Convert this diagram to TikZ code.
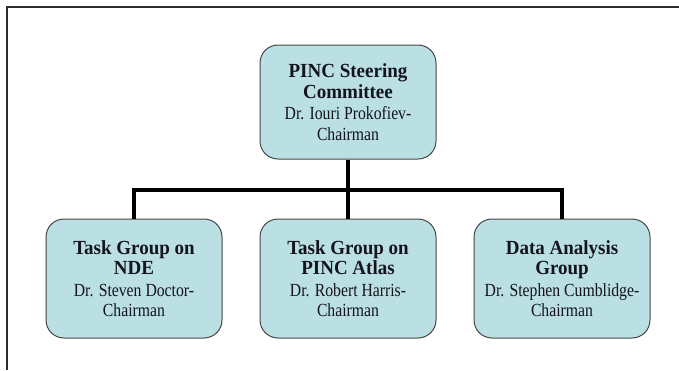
\documentclass[tikz,border=0pt]{standalone}
\usepackage{fontspec}
\setmainfont{Liberation Serif}[FakeStretch=0.85, BoldFeatures={FakeStretch=0.95}]
\definecolor{boxblue}{RGB}{186,224,227}
\definecolor{boxedge}{RGB}{70,70,70}
\definecolor{framegray}{RGB}{45,45,45}
\definecolor{txt}{RGB}{20,20,30}
\tikzset{
  orgbox/.style={draw=boxedge, line width=1pt, rounded corners=18pt, fill=boxblue,
    minimum width=176pt, minimum height=116pt, align=center, inner sep=0pt,
    text=txt, font=\fontsize{18.5}{20.5}\selectfont},
  conn/.style={line width=4pt, black, line join=miter}
}
\newcommand{\hdtxt}[1]{{\bfseries\fontsize{20}{21}\selectfont #1}}
\begin{document}
\begin{tikzpicture}[x=1pt,y=-1pt]
\useasboundingbox (0,0) rectangle (679,370);
\fill[white] (0,0) rectangle (679,370);
\draw[framegray, line width=2pt] (7,370) -- (7,7) -- (679,7);
\node[orgbox, minimum height=114pt] (top) at (348,102) {\hdtxt{PINC Steering}\\\hdtxt{Committee}\\[1pt]Dr. Iouri Prokofiev-\\Chairman};
\node[orgbox, minimum height=119pt] (nde) at (134,278.5) {\hdtxt{Task Group on}\\\hdtxt{NDE}\\[1pt]Dr. Steven Doctor-\\Chairman};
\node[orgbox, minimum height=119pt] (atlas) at (348,278.5) {\hdtxt{Task Group on}\\\hdtxt{PINC Atlas}\\[1pt]Dr. Robert Harris-\\Chairman};
\node[orgbox, minimum height=119pt] (data) at (562,278.5) {\hdtxt{Data Analysis}\\\hdtxt{Group}\\[1pt]Dr. Stephen Cumblidge-\\Chairman};
\coordinate (bus) at (348,190);
\draw[conn] (top.south) -- (atlas.north);
\draw[conn] (nde.north) |- (bus) -| (data.north);
\end{tikzpicture}
\end{document}
